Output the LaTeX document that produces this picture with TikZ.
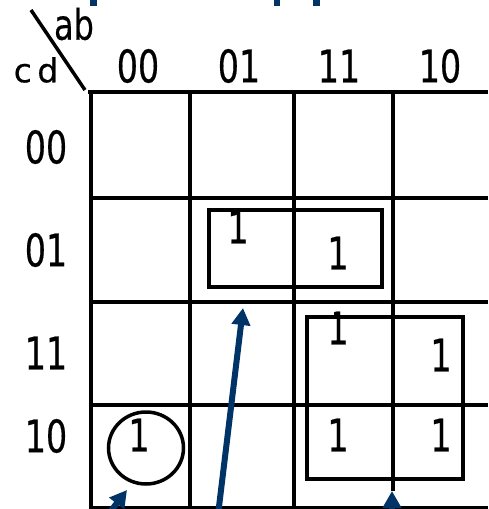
\documentclass[tikz,border=0pt]{standalone}
\usepackage{fontspec}
\usepackage{graphicx}
\setmainfont{DejaVu Sans}
\newfontfamily\heavy[FakeBold=0.5]{DejaVu Sans}
\usetikzlibrary{arrows.meta}
\definecolor{navy}{HTML}{003366}
\newcommand{\dg}[1]{\scalebox{0.74}[1]{\heavy\fontsize{45}{45}\selectfont #1}}
\tikzset{
  lab/.style={inner sep=0pt,text=black},
  grid/.style={draw=black,line width=#1},
  loop/.style={draw=black,line width=3.5pt,fill=none},
  blue arrow/.style={draw=navy,line width=6pt,-{Triangle[length=17pt,width=18pt]}},
  crumb/.style={fill=navy,draw=none}
}
\begin{document}
\begin{tikzpicture}[x=1pt,y=-1pt]
\useasboundingbox[fill=white] (0,0) rectangle (488,509);
\clip (0,0) rectangle (488,509);
% remnants of title
\fill[crumb] (90,0) rectangle (97,6);
\fill[crumb] (274,0) rectangle (280,6);
\fill[crumb] (313,0) rectangle (320,6);
% grid
\draw[grid=4.5pt] (88,92) -- (488,92);
\draw[grid=3.5pt] (91,198) -- (488,198);
\draw[grid=4.5pt] (91,302) -- (488,302);
\draw[grid=3.5pt] (91,405) -- (488,405);
\draw[grid=3.5pt] (91,508) -- (488,508);
\draw[grid=4.5pt] (91,92) -- (91,509);
\draw[grid=4.5pt] (190,92) -- (190,509);
\draw[grid=3.5pt] (294,92) -- (294,509);
\draw[grid=4.5pt] (393,92) -- (393,491);
% corner
\draw[grid=3.5pt] (31,10) -- (85,90);
\node[lab] (ab) at (74,24) {\scalebox{0.76}[1]{\heavy\fontsize{42}{42}\selectfont ab}};
\node[lab] (cd) at (36,70) {\scalebox{1.0}[1]{\heavy\fontsize{33}{33}\selectfont c\,d}};
% headers
\node[lab] (c00) at (138,66) {\dg{00}};
\node[lab] (c01) at (239,66) {\dg{01}};
\node[lab] (c11) at (339,66) {\dg{11}};
\node[lab] (c10) at (440,66) {\dg{10}};
\node[lab] (r00) at (46,147) {\dg{00}};
\node[lab] (r01) at (46,250) {\dg{01}};
\node[lab] (r11) at (46,353) {\dg{11}};
\node[lab] (r10) at (46,436) {\dg{10}};
% ones
\node[lab] (m1) at (238,227) {\dg{1}};
\node[lab] (m2) at (338,253) {\dg{1}};
\node[lab] (m3) at (338,328) {\dg{1}};
\fill[white] (324,307) rectangle (333.5,336);
\node[lab] (m4) at (441,355) {\dg{1}};
\node[lab] (m5) at (338,435) {\dg{1}};
\node[lab] (m6) at (441,435) {\dg{1}};
\node[lab] (m7) at (139,435) {\dg{1}};
% loops
\node[loop,minimum width=173pt,minimum height=77pt,inner sep=0pt] (g1) at (295.5,248.5) {};
\node[loop,minimum width=156pt,minimum height=162pt,inner sep=0pt,line width=4.5pt] (g2) at (385,398) {};
\draw[grid=3.5pt] (146,448) ellipse [x radius=37.5,y radius=36];
% arrows
\coordinate (a1s) at (218,515);
\coordinate (a1e) at (243,308);
\coordinate (a2s) at (100,525);
\coordinate (a2e) at (127,490);
\coordinate (a3s) at (392,530);
\coordinate (a3e) at (392,491);
\draw[blue arrow] (a1s) -- (a1e);
\draw[blue arrow] (a2s) -- (a2e);
\draw[blue arrow] (a3s) -- (a3e);
\end{tikzpicture}
\end{document}
